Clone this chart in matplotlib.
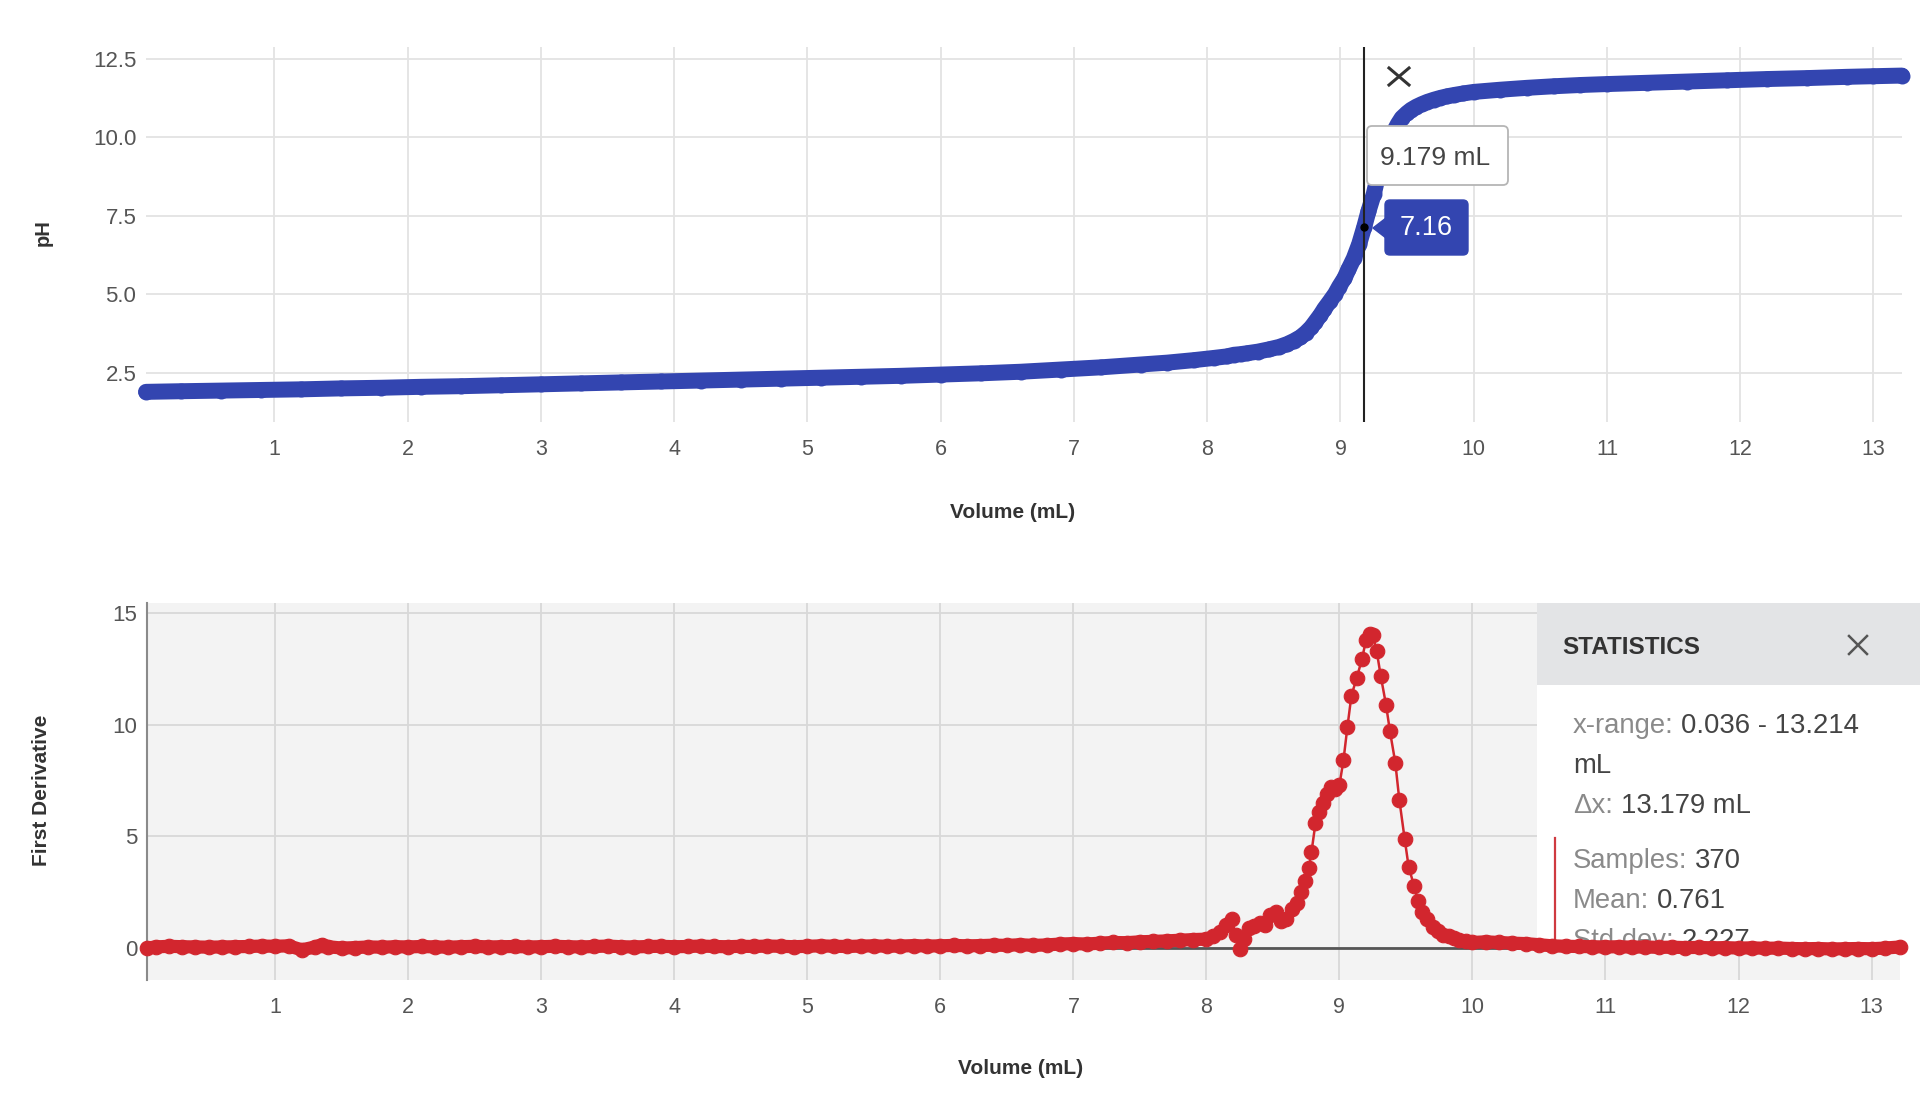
import matplotlib
matplotlib.use("Agg")
import matplotlib.pyplot as plt
from matplotlib.patches import Rectangle, FancyBboxPatch, Polygon
from matplotlib.lines import Line2D
from matplotlib.transforms import IdentityTransform

plt.rcParams['font.family'] = ['Liberation Sans', 'DejaVu Sans']

# ---------------- data ----------------
ph_volume = [0.036, 0.3, 0.6, 0.9, 1.2, 1.5, 1.8, 2.1, 2.4, 2.7, 3.0, 3.3, 3.6, 3.9,
             4.2, 4.5, 4.8, 5.1, 5.4, 5.7, 6.0, 6.3, 6.6, 6.9, 7.2, 7.5, 7.7, 7.9,
             8.05, 8.15, 8.2, 8.25, 8.3, 8.38, 8.46, 8.54, 8.6, 8.65, 8.70, 8.74,
             8.78, 8.81, 8.85, 8.88, 8.92, 8.96, 8.99, 9.03, 9.06, 9.10, 9.14, 9.179,
             9.21, 9.25, 9.28, 9.32, 9.35, 9.39, 9.43, 9.46, 9.50, 9.53, 9.57, 9.61,
             9.65, 9.70, 9.75, 9.80, 9.85, 9.92, 10.0, 10.2, 10.4, 10.6, 10.8, 11.0,
             11.3, 11.6, 11.9, 12.2, 12.5, 12.8, 13.0, 13.214]
ph_values = [1.90, 1.92, 1.94, 1.96, 1.98, 2.01, 2.03, 2.06, 2.08, 2.11, 2.14, 2.17, 2.20, 2.23,
             2.26, 2.29, 2.32, 2.35, 2.38, 2.41, 2.45, 2.49, 2.54, 2.61, 2.68, 2.77, 2.83, 2.91,
             2.98, 3.03, 3.08, 3.10, 3.13, 3.18, 3.25, 3.33, 3.42, 3.52, 3.64, 3.78,
             3.95, 4.12, 4.35, 4.55, 4.78, 5.02, 5.25, 5.52, 5.80, 6.15, 6.60, 7.16,
             7.65, 8.20, 8.75, 9.30, 9.75, 10.10, 10.42, 10.62, 10.78, 10.88, 10.98, 11.06,
             11.13, 11.20, 11.26, 11.31, 11.35, 11.40, 11.45, 11.52, 11.58, 11.63, 11.67, 11.70,
             11.74, 11.78, 11.82, 11.86, 11.89, 11.93, 11.95, 11.97]

deriv_volume = [0.036, 0.1, 0.2, 0.3, 0.4, 0.5, 0.6, 0.7, 0.8, 0.9, 1.0, 1.1, 1.2, 1.3, 1.35,
                1.4, 1.5, 1.6, 1.7, 1.8, 1.9, 2.0, 2.1, 2.2, 2.3, 2.4, 2.5, 2.6, 2.7, 2.8,
                2.9, 3.0, 3.1, 3.2, 3.3, 3.4, 3.5, 3.6, 3.7, 3.8, 3.9, 4.0, 4.1, 4.2, 4.3,
                4.4, 4.5, 4.6, 4.7, 4.8, 4.9, 5.0, 5.1, 5.2, 5.3, 5.4, 5.5, 5.6, 5.7, 5.8,
                5.9, 6.0, 6.1, 6.2, 6.3, 6.4, 6.5, 6.6, 6.7, 6.8, 6.9, 7.0, 7.1, 7.2, 7.3,
                7.4, 7.5, 7.6, 7.7, 7.8, 7.9, 8.0, 8.05, 8.1, 8.15, 8.19, 8.22, 8.25, 8.28,
                8.32, 8.36, 8.40, 8.44, 8.48, 8.52, 8.56, 8.60, 8.64, 8.68, 8.71, 8.74, 8.77,
                8.79, 8.82, 8.85, 8.88, 8.91, 8.94, 8.97, 9.00, 9.03, 9.06, 9.09, 9.13, 9.17,
                9.20, 9.23, 9.25, 9.28, 9.31, 9.35, 9.38, 9.42, 9.45, 9.49, 9.52, 9.56, 9.59,
                9.62, 9.66, 9.70, 9.74, 9.78, 9.82, 9.86, 9.90, 9.95, 10.0, 10.1, 10.2, 10.3,
                10.4, 10.5, 10.6, 10.7, 10.8, 10.9, 11.0, 11.1, 11.2, 11.3, 11.4, 11.5, 11.6,
                11.7, 11.8, 11.9, 12.0, 12.1, 12.2, 12.3, 12.4, 12.5, 12.6, 12.7, 12.8, 12.9,
                13.0, 13.1, 13.214]
deriv_values = [0.00, 0.05, 0.08, 0.06, 0.05, 0.04, 0.05, 0.06, 0.07, 0.09, 0.08, 0.10, -0.08, 0.05, 0.15,
                0.06, 0.00, 0.02, 0.05, 0.04, 0.06, 0.05, 0.07, 0.05, 0.04, 0.06, 0.08, 0.05, 0.06, 0.07,
                0.05, 0.06, 0.08, 0.06, 0.05, 0.07, 0.09, 0.06, 0.05, 0.07, 0.08, 0.06, 0.07, 0.09, 0.07,
                0.06, 0.08, 0.07, 0.09, 0.08, 0.06, 0.08, 0.10, 0.08, 0.07, 0.09, 0.10, 0.08, 0.09, 0.11,
                0.09, 0.10, 0.12, 0.10, 0.11, 0.13, 0.12, 0.15, 0.12, 0.14, 0.18, 0.20, 0.18, 0.22, 0.25,
                0.24, 0.28, 0.30, 0.32, 0.35, 0.38, 0.40, 0.55, 0.70, 1.05, 1.30, 0.60, -0.05, 0.40,
                0.90, 1.00, 1.10, 1.05, 1.50, 1.60, 1.20, 1.30, 1.75, 2.00, 2.50, 3.00, 3.60,
                4.30, 5.60, 6.10, 6.50, 6.90, 7.20, 7.10, 7.30, 8.40, 9.90, 11.30, 12.10, 12.95,
                13.80, 14.05, 14.00, 13.30, 12.20, 10.90, 9.70, 8.30, 6.65, 4.90, 3.65, 2.80, 2.10,
                1.60, 1.30, 0.95, 0.75, 0.60, 0.55, 0.45, 0.35, 0.30, 0.25, 0.28, 0.25, 0.22,
                0.20, 0.15, 0.10, 0.08, 0.07, 0.06, 0.05, 0.06, 0.04, 0.05, 0.03, 0.04, 0.02,
                0.03, 0.01, 0.02, 0.00, 0.01, -0.01, 0.00, -0.02, -0.03, -0.02, -0.04, -0.03, -0.02,
                -0.03, 0.00, 0.05]

x_ticks = [1, 2, 3, 4, 5, 6, 7, 8, 9, 10, 11, 12, 13]
ph_ticks = [2.5, 5.0, 7.5, 10.0, 12.5]
deriv_ticks = [0, 5, 10, 15]
x_range = (0.036, 13.214)
cursor_volume = 9.179
cursor_ph = 7.16
stats_rows = [("x-range: ", "0.036 - 13.214"), ("", "mL"), ("\u0394x: ", "13.179 mL"),
              ("Samples: ", "370"), ("Mean: ", "0.761"), ("Std dev: ", "2.227")]

# ---------------- figure ----------------
W, H = 1920, 1099
fig = plt.figure(figsize=(W / 100, H / 100), dpi=100)
fig.patch.set_facecolor('white')

BLUE = '#3345b0'
RED = '#d2262e'
TICK_C = '#555555'
LABEL_C = '#333333'

ax1 = fig.add_axes([146 / W, 1 - 422 / H, (1902 - 146) / W, (422 - 47) / H])
ax2 = fig.add_axes([147 / W, 1 - 980 / H, (1900 - 147) / W, (980 - 603) / H])

for ax in (ax1, ax2):
    ax.set_xticks(x_ticks)
    ax.set_xticklabels([str(t) for t in x_ticks])
    ax.tick_params(axis='both', length=0, labelcolor=TICK_C)
    ax.tick_params(axis='x', pad=12, labelsize=15.5)
    ax.tick_params(axis='y', pad=7, labelsize=16)
    ax.set_axisbelow(True)

# top chart
ax1.set_facecolor('white')
for s in ax1.spines.values():
    s.set_visible(False)
ax1.grid(True, color='#e3e3e3', lw=1.3)
ax1.set_yticks(ph_ticks)
ax1.set_yticklabels([f"{t:.1f}" for t in ph_ticks])
ax1.plot(ph_volume, ph_values, color=BLUE, lw=11.5, marker='o', ms=11.5,
         markeredgewidth=0, solid_capstyle='round', solid_joinstyle='round',
         zorder=3, clip_on=False)
ax1.axvline(cursor_volume, color='#222222', lw=1.5, zorder=4)
ax1.plot([cursor_volume], [cursor_ph], 'o', color='black', ms=5, zorder=5)
ax1.set_xlim(*x_range)
ax1.set_ylim(0.94, 12.88)

# bottom chart
ax2.set_facecolor('#f3f3f3')
for k, s in ax2.spines.items():
    s.set_visible(k == 'left')
ax2.spines['left'].set_color('#8a8a8a')
ax2.spines['left'].set_linewidth(1.5)
ax2.grid(True, color='#d8d8d8', lw=1.3)
ax2.set_yticks(deriv_ticks)
ax2.set_yticklabels([str(t) for t in deriv_ticks])
ax2.axhline(0, color='#555555', lw=2, zorder=2)
# dense, overlapping samples in the flat stretches read as a solid band
left_flat = [(v, d) for v, d in zip(deriv_volume, deriv_values) if v <= 8.0]
right_flat = [(v, d) for v, d in zip(deriv_volume, deriv_values) if v >= 9.9]
for seg in (left_flat, right_flat):
    ax2.plot([p[0] for p in seg], [p[1] for p in seg], color=RED, lw=9.5,
             solid_capstyle='round', solid_joinstyle='round', zorder=4.9, clip_on=False)
ax2.plot(deriv_volume, deriv_values, color=RED, lw=1.8, marker='o', ms=10.5,
         markeredgewidth=0.8, markeredgecolor=RED, zorder=5, clip_on=False)
ax2.set_xlim(*x_range)
ax2.set_ylim(-1.43, 15.45)

# axis labels
fig.text(1013 / W, 1 - 512 / H, 'Volume (mL)', ha='center', va='center',
         fontsize=15, fontweight='bold', color=LABEL_C)
fig.text(1021 / W, 1 - 1069 / H, 'Volume (mL)', ha='center', va='center',
         fontsize=15, fontweight='bold', color=LABEL_C)
fig.text(43 / W, 1 - 233 / H, 'pH', ha='center', va='center', rotation=90,
         fontsize=14.5, fontweight='bold', color=LABEL_C)
fig.text(42 / W, 1 - 790 / H, 'First Derivative', ha='center', va='center', rotation=90,
         fontsize=15, fontweight='bold', color=LABEL_C)

ID = IdentityTransform()

def py(y):
    return H - y

# tooltip: volume
tip1 = FancyBboxPatch((1367, py(185)), 1508 - 1367, 185 - 126, transform=ID,
                      boxstyle='round,pad=0,rounding_size=5', fc='white', ec='#b5b5b5',
                      lw=1.3, zorder=6)
fig.add_artist(tip1)
fig.text(1380 / W, 1 - 158 / H, f"{cursor_volume:.3f} mL", ha='left', va='center',
         fontsize=19, color='#444444', zorder=7)

# tooltip: pH value
tip2 = FancyBboxPatch((1385, py(255)), 1468 - 1385, 255 - 200, transform=ID,
                      boxstyle='round,pad=0,rounding_size=5', fc=BLUE, ec=BLUE, lw=1, zorder=6)
fig.add_artist(tip2)
fig.add_artist(Polygon([(1386, py(218)), (1373, py(228)), (1386, py(238))], closed=True,
                       transform=ID, fc=BLUE, ec=BLUE, zorder=6))
fig.text(1426 / W, 1 - 228 / H, f"{cursor_ph:.2f}", ha='center', va='center',
         fontsize=19.5, color='white', zorder=7)

# close cross on top chart
for (xa, ya, xb, yb) in [(1389, 68, 1409, 85), (1409, 68, 1389, 85)]:
    fig.add_artist(Line2D([xa, xb], [py(ya), py(yb)], transform=ID, color='#333333',
                          lw=2.2, zorder=7))

# ---------------- statistics panel (inside bottom axes) ----------------
def ax2_frac_x(px):
    return (px - 147) / (1900 - 147)

def ax2_frac_y(pyy):
    return (980 - pyy) / (980 - 603)

bx0 = ax2_frac_x(1537)
body = Rectangle((bx0, ax2_frac_y(949)), 1.02 - bx0, 1 - ax2_frac_y(949),
                 transform=ax2.transAxes, fc='white', ec='none', zorder=3, clip_on=False)
ax2.add_patch(body)
header = Rectangle((bx0, ax2_frac_y(685)), 1.02 - bx0, 1 - ax2_frac_y(685),
                   transform=ax2.transAxes, fc='#e3e4e6', ec='none', zorder=3.1, clip_on=False)
ax2.add_patch(header)
ax2.add_artist(Line2D([1.02, 1.02], [ax2_frac_y(707), 1.0], transform=ax2.transAxes,
                      color='#a8a8a8', lw=1.5, zorder=3.2, clip_on=False))

ax2.text(1562, py(647), 'STATISTICS', transform=ID, ha='left', va='center',
         fontsize=17.5, fontweight='bold', color='#333333', zorder=3.5)
for (xa, ya, xb, yb) in [(1849, 636, 1867, 654), (1867, 636, 1849, 654)]:
    ax2.add_artist(Line2D([xa, xb], [py(ya), py(yb)], transform=ID, color='#555555',
                          lw=1.8, zorder=3.5, clip_on=False))

ax2.add_artist(Line2D([ax2_frac_x(1555)] * 2, [ax2_frac_y(948), ax2_frac_y(838)],
                      transform=ax2.transAxes, color='#cf3a40', lw=1.6, zorder=3.4))

row_centres = [723, 763, 803, 858, 898, 938]
fs = 19.8
renderer = fig.canvas.get_renderer()
space_px = 0.28 * fs * 100 / 72
for (lab, val), yc in zip(stats_rows, row_centres):
    base = py(yc + 10)
    x_cur = 1573
    arts = []
    if lab:
        t = ax2.text(x_cur, base, lab.strip(), transform=ID, ha='left', va='baseline',
                     fontsize=fs, color='#8a8a8a', zorder=3.5)
        arts.append(t)
        bb = t.get_window_extent(renderer)
        x_cur = bb.x1 + space_px
    t2 = ax2.text(x_cur, base, val, transform=ID, ha='left', va='baseline',
                  fontsize=fs, color='#444444', zorder=3.5)
    arts.append(t2)
    for a in arts:
        a.set_clip_path(body)

fig.savefig('out.png', dpi=100, facecolor='white')
